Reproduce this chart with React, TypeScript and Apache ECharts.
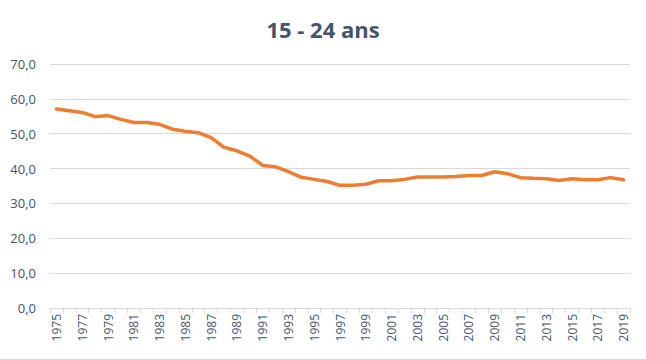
import React, { useEffect, useRef } from "react";
import * as echarts from "echarts";

const years: string[] = [];
for (let y = 1975; y <= 2019; y++) years.push(String(y));

const values: number[] = [
  57.1, 56.6, 56.1, 54.9, 55.2, 54.1, 53.2, 53.2, 52.7, 51.3,
  50.7, 50.3, 48.9, 46.1, 45.1, 43.6, 40.9, 40.5, 39.1, 37.5,
  36.9, 36.3, 35.2, 35.2, 35.5, 36.5, 36.5, 36.9, 37.6, 37.6,
  37.6, 37.7, 38.0, 38.0, 39.1, 38.5, 37.4, 37.2, 37.1, 36.6,
  37.1, 36.8, 36.8, 37.4, 36.8,
];

const titleText = "15 - 24 ans";

export default function App() {
  const ref = useRef<HTMLDivElement>(null);
  useEffect(() => {
    document.body.style.margin = "0";
    const chart = echarts.init(ref.current!, null, { renderer: "svg" });
    chart.setOption({
      animation: false,
      backgroundColor: "#ffffff",
      title: {
        text: titleText,
        left: "center",
        top: 13,
        textStyle: {
          fontFamily: "Open Sans",
          fontWeight: "bold",
          fontSize: 22,
          color: "#44546A",
        },
      },
      grid: { left: 50, right: 16, top: 64, bottom: 52, containLabel: false },
      xAxis: {
        type: "category",
        data: years,
        boundaryGap: true,
        axisLine: { lineStyle: { color: "#D9D9D9", width: 1 } },
        axisTick: { show: true, interval: 0, length: 5, lineStyle: { color: "#D9D9D9" } },
        axisLabel: {
          interval: 1,
          rotate: 90,
          fontFamily: "Open Sans",
          fontSize: 12,
          color: "#44546A",
          margin: 6,
        },
      },
      yAxis: {
        type: "value",
        min: 0,
        max: 70,
        interval: 10,
        axisLine: { show: false },
        axisTick: { show: false },
        splitLine: { lineStyle: { color: "#D9D9D9", width: 1 } },
        axisLabel: {
          formatter: (v: number) => v.toFixed(1).replace(".", ","),
          fontFamily: "Open Sans",
          fontSize: 13,
          color: "#44546A",
          margin: 14,
        },
      },
      series: [
        {
          type: "line",
          data: values,
          showSymbol: false,
          symbol: "none",
          lineStyle: { color: "#ED7D31", width: 3.5, cap: "round", join: "round" },
        },
      ],
      graphic: [
        {
          type: "line",
          shape: { x1: 0, y1: 359.5, x2: 646, y2: 359.5 },
          style: { stroke: "#D9D9D9", lineWidth: 1 },
        },
      ],
    });
    return () => chart.dispose();
  }, []);
  return <div ref={ref} style={{ width: 646, height: 360 }} />;
}
